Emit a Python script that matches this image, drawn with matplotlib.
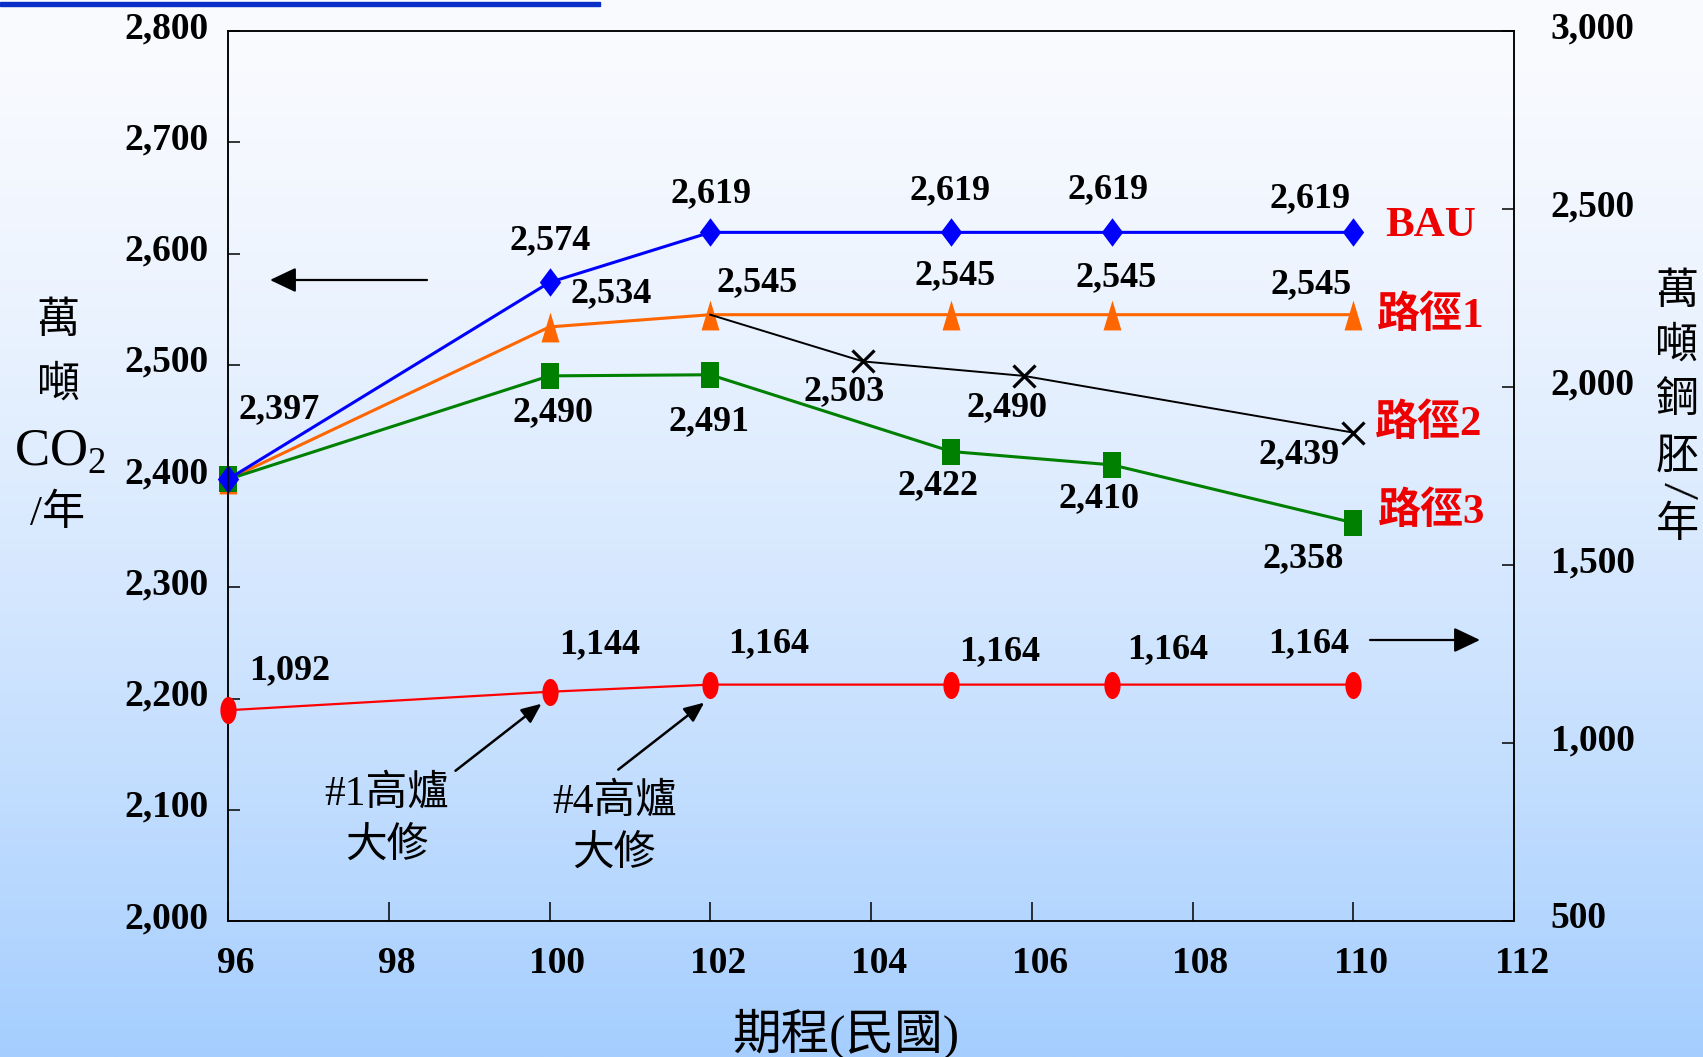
import numpy as np
import matplotlib
matplotlib.use("Agg")
import matplotlib.pyplot as plt
from matplotlib.transforms import ScaledTranslation, offset_copy
from matplotlib.patches import Rectangle

# ---------------- data ----------------
years = [96, 100, 102, 105, 107, 110]
bau = [2397, 2574, 2619, 2619, 2619, 2619]
route1 = [2397, 2534, 2545, 2545, 2545, 2545]
route3 = [2397, 2490, 2491, 2422, 2410, 2358]
route2_years = [102, 103.9, 105.9, 110]
route2 = [2545, 2503, 2490, 2439]
steel = [1092, 1144, 1164, 1164, 1164, 1164]

x_ticks = [96, 98, 100, 102, 104, 106, 108, 110, 112]
left_ticks = [2000, 2100, 2200, 2300, 2400, 2500, 2600, 2700, 2800]
right_ticks = [500, 1000, 1500, 2000, 2500, 3000]

series_names = ["BAU", "路徑1", "路徑2", "路徑3"]
notes = ["#1高爐\n大修", "#4高爐\n大修"]
note_years = [100, 102]

W, H = 1703, 1057
plt.rcParams["font.family"] = ["Liberation Serif", "Noto Sans CJK TC"]
plt.rcParams["mathtext.fontset"] = "custom"
plt.rcParams["mathtext.rm"] = "Liberation Serif"

fig = plt.figure(figsize=(W / 100, H / 100), dpi=100)


def fx(x):
    return x / W


def fy(y):
    return 1 - y / H


# background gradient (white at top to light blue at bottom)
bg = fig.add_axes([0, 0, 1, 1], zorder=-10)
t = np.linspace(0, 1, 512)[:, None] ** 1.4
top = np.array([250, 251, 255]) / 255
bot = np.array([165, 206, 254]) / 255
grad = top[None, None, :] + (bot - top)[None, None, :] * t[:, :, None]
bg.imshow(grad, aspect="auto", extent=[0, 1, 0, 1], interpolation="bilinear")
bg.set_axis_off()

# hyperlink-style bar at the very top
fig.patches.append(Rectangle((0, H - 6), 600, 4, transform=None,
                             color="#0a2fc8", zorder=5))

ax = fig.add_axes([fx(228), fy(921), 1286 / W, 890 / H])
ax2 = ax.twinx()
for a in (ax, ax2):
    a.patch.set_visible(False)
    for s in a.spines.values():
        s.set_linewidth(1.1)

ax.set_xlim(96, 112)
ax.set_ylim(2000, 2800)
ax2.set_ylim(500, 3000)


# custom marker shapes
def box(wr):
    return [(-wr, -1), (wr, -1), (wr, 1), (-wr, 1), (-wr, -1)]


diamond = [(0, 1), (0.75, 0), (0, -1), (-0.75, 0), (0, 1)]
tri = [(0, 1), (0.6, -1), (-0.6, -1), (0, 1)]
ang = np.linspace(0, 2 * np.pi, 40)
ellipse = list(zip(0.6 * np.cos(ang), np.sin(ang)))

ax.plot(years, route1, color="#ff6600", lw=2.2, marker=tri, ms=21.5,
        mew=0, zorder=3, clip_on=False)
ax.plot(years, route3, color="#008000", lw=2.2, marker=box(0.69), ms=18.7,
        mew=0, zorder=4, clip_on=False)
ax.plot(years, bau, color="#0000ff", lw=2.2, marker=diamond, ms=20.5,
        mew=0, zorder=5, clip_on=False)
ax.plot(route2_years, route2, color="black", lw=1.4, zorder=3)
ax.plot(route2_years[1:], route2[1:], ls="none", color="black", marker="x",
        ms=16, mew=2.3, zorder=3)
ax2.plot(years, steel, color="#ff0000", lw=1.6, marker=ellipse, ms=19.5,
         mew=0, clip_on=False, zorder=5)

# ticks
ax.set_xticks(x_ticks, [str(v) for v in x_ticks], fontsize=27,
              fontweight="bold")
ax.set_yticks(left_ticks, [f"{v:,}" for v in left_ticks], fontsize=27,
              fontweight="bold")
ax2.set_yticks(right_ticks, [f"{v:,}" for v in right_ticks], fontsize=27,
               fontweight="bold")
ax.tick_params(axis="y", direction="in", length=8.6, width=1.1, pad=14)
ax.tick_params(axis="x", direction="in", length=13.7, width=1.1, pad=18)
ax2.tick_params(axis="y", direction="in", length=8.6, width=1.1, pad=26.5)

up = ScaledTranslation(0, 6.5 / 100, fig.dpi_scale_trans)
right = ScaledTranslation(8 / 100, 0, fig.dpi_scale_trans)
for lab in ax.get_yticklabels() + ax2.get_yticklabels():
    lab.set_transform(lab.get_transform() + up)
for lab in ax.get_xticklabels():
    lab.set_transform(lab.get_transform() + right)


# value labels
def label(axis, x, y, dx, dy):
    axis.annotate(f"{y:,}", xy=(x, y), xytext=(dx, dy),
                  textcoords="offset pixels", ha="center", va="center",
                  fontsize=26, fontweight="bold", zorder=8)


bau_off = [(51, 70), (1, 42), (1, 39), (-1, 42), (-4, 43), (-43, 34)]
for x, y, (dx, dy) in zip(years, bau, bau_off):
    label(ax, x, y, dx, dy)
r1_off = [(62, 33), (47, 32), (4, 39), (4, 37), (-42, 30)]
for x, y, (dx, dy) in zip(years[1:], route1[1:], r1_off):
    label(ax, x, y, dx, dy)
r3_off = [(3, -37), (-1, -47), (-13, -34), (-13, -34), (-50, -36)]
for x, y, (dx, dy) in zip(years[1:], route3[1:], r3_off):
    label(ax, x, y, dx, dy)
r2_off = [(-19, -30), (-17, -32), (-54, -22)]
for x, y, (dx, dy) in zip(route2_years[1:], route2[1:], r2_off):
    label(ax, x, y, dx, dy)
st_off = [(62, 40), (50, 47), (58, 41), (48, 33), (55, 35), (-45, 41)]
for x, y, (dx, dy) in zip(years, steel, st_off):
    label(ax2, x, y, dx, dy)

# series names at line ends
name_pts = [(years[-1], bau[-1]), (years[-1], route1[-1]),
            (route2_years[-1], route2[-1]), (years[-1], route3[-1])]
name_off = [(77, 6), (77, -1), (75, 9), (78, 11)]
for name, (x, y), (dx, dy) in zip(series_names, name_pts, name_off):
    ax.annotate(name, xy=(x, y), xytext=(dx, dy), textcoords="offset pixels",
                ha="center", va="center", fontsize=31, fontweight="bold",
                color="#ee0000", annotation_clip=False)

# blast furnace overhaul notes
arrow_note = dict(arrowstyle="-|>,head_length=0.6,head_width=0.26",
                  color="black", lw=1.8, shrinkA=0, shrinkB=0,
                  mutation_scale=20)
tip_off = [(-8, -12), (-6, -18)]
text_off = [(-163, -129), (-96, -144)]
for note, yr, (tx, ty), (nx, ny) in zip(notes, note_years, tip_off, text_off):
    v = steel[years.index(yr)]
    tr = offset_copy(ax2.transData, fig=fig, x=tx, y=ty, units="dots")
    ax2.annotate("", xy=(yr, v), xycoords=tr, xytext=(-86, -67),
                 textcoords="offset pixels", arrowprops=arrow_note)
    ax2.annotate(note, xy=(yr, v), xytext=(nx, ny), textcoords="offset pixels",
                 ha="center", va="center", fontsize=30, linespacing=1.45)

# axis pointers
arrow_axis = dict(arrowstyle="-|>,head_length=0.8,head_width=0.38",
                  color="black", lw=1.6, shrinkA=0, shrinkB=0,
                  mutation_scale=20)
ax.annotate("", xy=(270, H - 280), xycoords="figure pixels",
            xytext=(427, H - 280), textcoords="figure pixels",
            arrowprops=arrow_axis)
ax.annotate("", xy=(1480, H - 640), xycoords="figure pixels",
            xytext=(1370, H - 640), textcoords="figure pixels",
            arrowprops=arrow_axis)

# axis titles
for s, y in zip(["萬", "噸"], [322, 386]):
    fig.text(fx(58), fy(y), s, ha="center", va="center", fontsize=31)
fig.text(fx(60), fy(452), "CO$_\\mathrm{2}$", ha="center", va="center",
         fontsize=38)
fig.text(fx(58), fy(514), "/年", ha="center", va="center", fontsize=31)

for s, y in zip(["萬", "噸", "鋼", "胚", "年"], [293, 347, 402, 458, 526]):
    fig.text(fx(1677), fy(y), s, ha="center", va="center", fontsize=31)
fig.text(fx(1677), fy(490), "/", ha="center", va="center", fontsize=36,
         rotation=-95)

fig.text(fx(846), fy(1034), "期程(民國)", ha="center", va="center",
         fontsize=35)

fig.savefig("out.png", dpi=100)
